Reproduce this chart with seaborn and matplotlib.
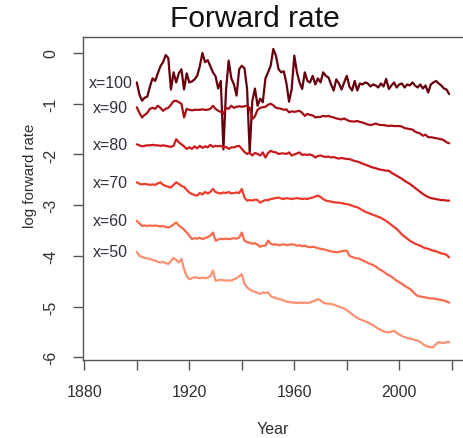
import numpy as np
import pandas as pd
import matplotlib
matplotlib.use("Agg")
import matplotlib.pyplot as plt
import seaborn as sns

years = list(range(1900, 2020))

x100 = [-0.58, -0.82, -0.94, -0.88, -0.86, -0.66, -0.50, -0.55, -0.40, -0.26,
        -0.18, -0.04, -0.10, -0.72, -0.38, -0.58, -0.40, -0.32, -0.72, -0.40,
        -0.58, -0.56, -0.52, -0.45, -0.26, 0.00, -0.18, -0.14, -0.26, -0.38,
        -0.46, -0.70, -0.55, -1.90, -0.72, -0.15, -0.50, -0.62, -0.84, -0.32,
        -0.25, -0.30, -0.70, -1.95, -0.95, -0.70, -1.04, -0.90, -0.97, -0.50,
        -0.38, -0.25, 0.08, -0.05, -0.32, -0.38, -0.36, -0.60, -0.96, -0.71,
        -0.05, -0.38, -0.58, -0.71, -0.38, -0.55, -0.58, -0.45, -0.62, -0.50,
        -0.58, -0.38, -0.45, -0.48, -0.62, -0.74, -0.52, -0.60, -0.72, -0.58,
        -0.45, -0.66, -0.74, -0.55, -0.74, -0.60, -0.62, -0.58, -0.60, -0.66,
        -0.62, -0.64, -0.68, -0.60, -0.66, -0.51, -0.71, -0.64, -0.58, -0.68,
        -0.62, -0.60, -0.68, -0.62, -0.64, -0.58, -0.64, -0.68, -0.62, -0.70,
        -0.64, -0.78, -0.62, -0.58, -0.55, -0.60, -0.64, -0.70, -0.72, -0.81]

x90 = [-1.07, -1.18, -1.27, -1.22, -1.18, -1.10, -1.08, -1.10, -1.04, -1.08,
       -1.14, -1.10, -1.08, -1.02, -0.95, -0.94, -0.97, -1.00, -1.27, -1.10,
       -1.12, -1.13, -1.12, -1.12, -1.12, -1.11, -1.12, -1.12, -1.10, -1.04,
       -1.10, -1.14, -1.16, -1.20, -1.08, -1.10, -1.04, -1.08, -1.06, -1.05,
       -1.06, -1.05, -1.04, -1.08, -1.30, -1.25, -1.12, -1.08, -1.07, -1.06,
       -1.02, -1.00, -1.03, -1.08, -1.09, -1.10, -1.12, -1.11, -1.17, -1.15,
       -1.16, -1.15, -1.14, -1.18, -1.24, -1.20, -1.22, -1.23, -1.27, -1.26,
       -1.26, -1.24, -1.25, -1.24, -1.26, -1.27, -1.29, -1.30, -1.31, -1.29,
       -1.32, -1.34, -1.35, -1.35, -1.34, -1.36, -1.37, -1.39, -1.41, -1.42,
       -1.41, -1.39, -1.41, -1.42, -1.42, -1.43, -1.44, -1.43, -1.44, -1.44,
       -1.44, -1.45, -1.48, -1.49, -1.50, -1.51, -1.55, -1.57, -1.59, -1.63,
       -1.61, -1.66, -1.66, -1.67, -1.68, -1.69, -1.70, -1.72, -1.76, -1.78]

x80 = [-1.80, -1.82, -1.84, -1.83, -1.82, -1.82, -1.81, -1.82, -1.82, -1.83,
       -1.82, -1.83, -1.84, -1.85, -1.83, -1.70, -1.76, -1.80, -1.84, -1.89,
       -1.86, -1.89, -1.84, -1.88, -1.83, -1.87, -1.84, -1.86, -1.81, -1.85,
       -1.83, -1.84, -1.83, -1.86, -1.85, -1.89, -1.86, -1.86, -1.84, -1.83,
       -1.89, -1.95, -1.99, -1.97, -2.02, -1.97, -1.99, -2.02, -1.96, -2.06,
       -1.97, -1.93, -1.95, -1.96, -1.99, -1.98, -1.98, -1.99, -1.96, -2.02,
       -2.00, -1.98, -1.96, -2.01, -2.00, -2.01, -2.00, -2.02, -2.06, -2.03,
       -2.02, -2.04, -2.05, -2.04, -2.06, -2.05, -2.07, -2.08, -2.07, -2.08,
       -2.09, -2.09, -2.11, -2.13, -2.14, -2.16, -2.18, -2.20, -2.22, -2.24,
       -2.26, -2.27, -2.29, -2.30, -2.31, -2.32, -2.32, -2.36, -2.39, -2.42,
       -2.45, -2.48, -2.52, -2.55, -2.58, -2.62, -2.66, -2.70, -2.74, -2.78,
       -2.81, -2.84, -2.86, -2.87, -2.88, -2.89, -2.90, -2.90, -2.91, -2.91]

x70 = [-2.55, -2.58, -2.59, -2.58, -2.59, -2.60, -2.59, -2.60, -2.57, -2.55,
       -2.60, -2.62, -2.64, -2.65, -2.60, -2.55, -2.58, -2.62, -2.64, -2.70,
       -2.75, -2.78, -2.80, -2.81, -2.76, -2.79, -2.74, -2.77, -2.74, -2.68,
       -2.74, -2.76, -2.77, -2.75, -2.76, -2.74, -2.77, -2.76, -2.75, -2.76,
       -2.68, -2.85, -2.91, -2.90, -2.91, -2.89, -2.90, -2.95, -2.92, -2.90,
       -2.90, -2.88, -2.87, -2.86, -2.85, -2.87, -2.88, -2.86, -2.87, -2.88,
       -2.87, -2.86, -2.87, -2.88, -2.87, -2.88, -2.86, -2.85, -2.83, -2.81,
       -2.84, -2.88, -2.91, -2.92, -2.93, -2.94, -2.95, -2.95, -2.96, -2.97,
       -2.98, -2.99, -3.01, -3.03, -3.04, -3.07, -3.10, -3.13, -3.15, -3.17,
       -3.19, -3.21, -3.23, -3.25, -3.28, -3.31, -3.35, -3.39, -3.43, -3.47,
       -3.52, -3.58, -3.62, -3.66, -3.70, -3.73, -3.76, -3.78, -3.80, -3.83,
       -3.85, -3.86, -3.88, -3.90, -3.91, -3.93, -3.95, -3.96, -3.98, -4.03]

x60 = [-3.31, -3.36, -3.41, -3.40, -3.41, -3.40, -3.41, -3.40, -3.41, -3.42,
       -3.41, -3.43, -3.44, -3.42, -3.38, -3.34, -3.40, -3.44, -3.48, -3.54,
       -3.60, -3.67, -3.65, -3.66, -3.64, -3.67, -3.65, -3.63, -3.60, -3.54,
       -3.70, -3.68, -3.66, -3.67, -3.66, -3.67, -3.66, -3.65, -3.66, -3.64,
       -3.54, -3.70, -3.73, -3.74, -3.76, -3.75, -3.78, -3.82, -3.80, -3.80,
       -3.70, -3.76, -3.78, -3.77, -3.79, -3.78, -3.77, -3.79, -3.78, -3.77,
       -3.78, -3.80, -3.79, -3.81, -3.80, -3.82, -3.83, -3.82, -3.83, -3.85,
       -3.86, -3.87, -3.88, -3.90, -3.91, -3.92, -3.93, -3.92, -3.91, -3.90,
       -3.90, -4.00, -4.02, -4.04, -4.05, -4.06, -4.09, -4.11, -4.14, -4.16,
       -4.18, -4.21, -4.25, -4.28, -4.31, -4.35, -4.38, -4.41, -4.45, -4.49,
       -4.52, -4.55, -4.59, -4.62, -4.65, -4.70, -4.75, -4.79, -4.80, -4.81,
       -4.82, -4.83, -4.84, -4.84, -4.85, -4.86, -4.87, -4.88, -4.90, -4.92]

x50 = [-3.92, -4.00, -4.02, -4.04, -4.05, -4.06, -4.08, -4.09, -4.12, -4.13,
       -4.12, -4.14, -4.16, -4.10, -4.04, -4.08, -4.13, -4.06, -4.26, -4.40,
       -4.46, -4.44, -4.42, -4.43, -4.44, -4.43, -4.44, -4.43, -4.40, -4.29,
       -4.49, -4.48, -4.47, -4.48, -4.49, -4.48, -4.49, -4.46, -4.44, -4.40,
       -4.36, -4.55, -4.62, -4.66, -4.69, -4.71, -4.73, -4.75, -4.72, -4.73,
       -4.72, -4.79, -4.82, -4.83, -4.85, -4.86, -4.88, -4.90, -4.91, -4.92,
       -4.92, -4.93, -4.92, -4.93, -4.92, -4.93, -4.92, -4.90, -4.88, -4.85,
       -4.88, -4.92, -4.94, -4.94, -4.95, -4.96, -4.98, -5.00, -5.02, -5.04,
       -5.07, -5.11, -5.15, -5.19, -5.22, -5.25, -5.27, -5.29, -5.31, -5.34,
       -5.37, -5.40, -5.44, -5.46, -5.49, -5.50, -5.51, -5.49, -5.48, -5.52,
       -5.55, -5.58, -5.60, -5.62, -5.63, -5.64, -5.66, -5.67, -5.70, -5.74,
       -5.77, -5.79, -5.80, -5.80, -5.74, -5.70, -5.71, -5.72, -5.70, -5.70]

series_names = ["x=100", "x=90", "x=80", "x=70", "x=60", "x=50"]
series_values = [x100, x90, x80, x70, x60, x50]
series_colors = ["#67000d", "#a50f15", "#cb181d", "#ef3b2c", "#fb6a4a", "#fc9272"]
label_year = 1890

xticks = [1880, 1900, 1920, 1940, 1960, 1980, 2000, 2020]
xtick_labels = ["1880", "", "1920", "", "1960", "", "2000", ""]
yticks = [0, -1, -2, -3, -4, -5, -6]
ytick_labels = ["0", "-1", "-2", "-3", "-4", "-5", "-6"]

sns.set_style("white")
plt.rcParams["font.family"] = ["Liberation Sans", "DejaVu Sans"]
plt.rcParams["axes.unicode_minus"] = False

df = pd.concat([pd.DataFrame({"Year": years, "value": v, "age": n})
                for n, v in zip(series_names, series_values)], ignore_index=True)

fig = plt.figure(figsize=(4.64, 4.39), dpi=100)
ax = fig.add_axes([83/464, 78/439, (464-83)/464, (361-38)/439])

sns.lineplot(data=df, x="Year", y="value", hue="age", hue_order=series_names,
             palette=series_colors, linewidth=1.6, legend=False, ax=ax,
             estimator=None, sort=True)

for n, v, c in zip(series_names, series_values, series_colors):
    ax.text(label_year, v[0], n, ha="center", va="center", fontsize=11.5,
            color="#30303c")

ax.set_xlim(1879.5, 2024.65)
ax.set_ylim(-6.053, 0.316)
ax.set_xticks(xticks)
ax.set_xticklabels(xtick_labels)
ax.set_yticks(yticks)
ax.set_yticklabels(ytick_labels)
ax.set_xlabel("")
ax.set_ylabel("")

spine_c = "#555555"
for s in ["left", "bottom", "top"]:
    ax.spines[s].set_visible(True)
    ax.spines[s].set_color(spine_c)
    ax.spines[s].set_linewidth(1.0)
ax.spines["right"].set_visible(False)

ax.tick_params(axis="both", direction="out", length=7.2, width=1.0,
               color=spine_c, labelsize=11.5, labelcolor="#303030")
ax.tick_params(axis="x", pad=10, bottom=True)
ax.tick_params(axis="y", pad=16, left=True)
for lbl in ax.get_yticklabels():
    lbl.set_rotation(90)
    lbl.set_ha("center")
    lbl.set_va("center")

fig.text(255/464, 1 - 19/439, "Forward rate", ha="center", va="center",
         fontsize=21.6, color="#111111")
fig.text(30/464, 1 - 176/439, "log forward rate", ha="center", va="center",
         rotation=90, fontsize=10.8, color="#303030")
fig.text(273/464, 1 - 430/439, "Year", ha="center", va="center",
         fontsize=11.5, color="#303030")

fig.savefig("out.png", dpi=100)
